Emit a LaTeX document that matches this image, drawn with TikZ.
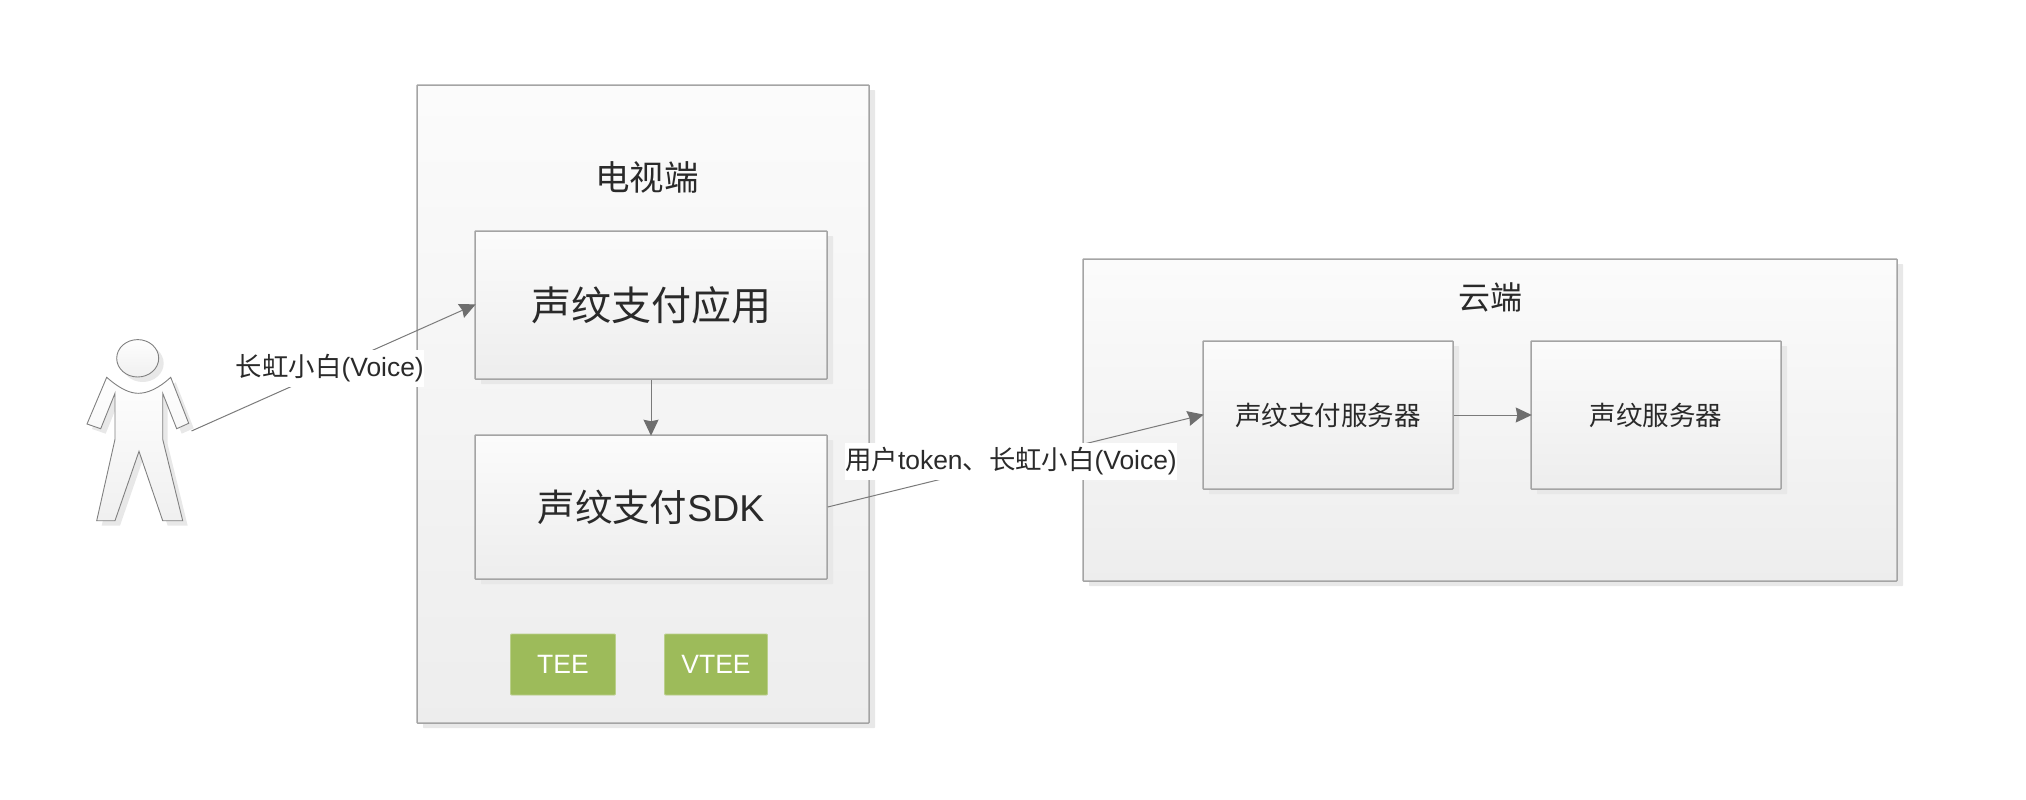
\documentclass[tikz,border=0pt]{standalone}
\usepackage{fontspec}
\setmainfont{Liberation Sans}
\newfontfamily\cjk{Noto Sans CJK SC}
\usetikzlibrary{arrows.meta,shadows}
\definecolor{txt}{HTML}{2A2A2A}
\definecolor{edge}{HTML}{A4A4A4}
\definecolor{shadowgrey}{HTML}{E8E8E8}
\definecolor{link}{HTML}{7A7A7A}
\definecolor{tip}{HTML}{6E6E6E}
\definecolor{grn}{HTML}{9DBB5A}
\tikzset{
  x=1pt,y=-1pt,
  panel/.style={draw=edge,line width=1.5pt,top color=black!1.5,bottom color=black!7,rounded corners=0.6pt,
    drop shadow={shadow xshift=6pt,shadow yshift=-5pt,fill=shadowgrey,opacity=1},inner sep=0pt,text=txt},
  greenbox/.style={draw=grn!70!white,line width=0.8pt,fill=grn,rounded corners=1pt,inner sep=0pt,text=white,font=\fontsize{26.5}{30}\selectfont},
  title/.style={inner sep=0pt,text=txt},
  link/.style={draw=link,line width=1pt},
  arrowlink/.style={link,shorten >=-1.5pt,-{Stealth[length=16pt,width=15pt,inset=1.5pt,color=tip]}},
  edgelabel/.style={fill=white,text=txt,inner xsep=0pt,inner ysep=0pt,minimum height=37pt,font=\fontsize{26.4}{30}\selectfont},
  personline/.style={draw=black!50,line width=0.9pt,top color=black!0.5,bottom color=black!6},
}
\newcommand{\bodypath}{(106.7,377.3) .. controls (120,389) and (130,393.3) .. (138.3,393.3) .. controls (147,393.3) and (158,389) .. (170.7,377.3) -- (188.7,423.3) -- (176.7,428.7) -- (162.7,393.3) -- (162.7,439.3) -- (182.7,520.7) -- (162.7,520.7) -- (139,451.3) -- (115,520.7) -- (96.7,520.7) -- (115,439.3) -- (115,393.3) -- (100.7,428.7) -- (87,424) -- cycle}
\begin{document}
\begin{tikzpicture}
\useasboundingbox (0,0) rectangle (2026,800);
% person
\fill[shadowgrey,shift={(5,5)}] \bodypath;
\fill[shadowgrey] (142.7,363.3) ellipse [x radius=21,y radius=18.7];
\path[personline] \bodypath;
\path[personline] (137.7,358.3) ellipse [x radius=21,y radius=18.7];
\coordinate (actor) at (191.5,431);
% client panel
\node[panel,minimum width=452pt,minimum height=638pt] (tv) at (643,404) {};
\node[title,font=\fontsize{34.5}{40}\selectfont] (tvtitle) at (647,177) {\cjk 电视端};
\node[panel,minimum width=352pt,minimum height=148pt,font=\fontsize{40}{46}\selectfont] (app) at (651,305) {\cjk 声纹支付应用};
\node[panel,minimum width=352pt,minimum height=144pt,font=\fontsize{37.4}{44}\selectfont] (sdk) at (651,507) {{\cjk 声纹支付}SDK};
\node[greenbox,minimum width=105pt,minimum height=61pt] (tee) at (563,664.5) {TEE};
\node[greenbox,minimum width=103pt,minimum height=61pt] (vtee) at (716,664.5) {VTEE};
% cloud panel
\node[panel,minimum width=814pt,minimum height=322pt] (cloud) at (1490,420) {};
\node[title,font=\fontsize{32}{38}\selectfont] (cloudtitle) at (1490,297) {\cjk 云端};
\node[panel,minimum width=250pt,minimum height=148pt,font=\fontsize{26.5}{32}\selectfont] (pay) at (1328,415) {\cjk 声纹支付服务器};
\node[panel,minimum width=250pt,minimum height=148pt,font=\fontsize{26.5}{32}\selectfont] (voice) at (1656,415) {\cjk 声纹服务器};
% connectors
\draw[arrowlink] (app.south) -- (sdk.north);
\draw[arrowlink] (pay.east) -- (voice.west);
\draw[arrowlink] (actor) -- node[edgelabel,midway,xshift=-3pt] (l1) {{\cjk 长虹小白}(Voice)} (app.west);
\draw[arrowlink] (sdk.east) -- node[edgelabel,midway,xshift=-4pt] (l2) {{\cjk 用户}token{\cjk 、长虹小白}(Voice)} (pay.west);
\end{tikzpicture}
\end{document}
